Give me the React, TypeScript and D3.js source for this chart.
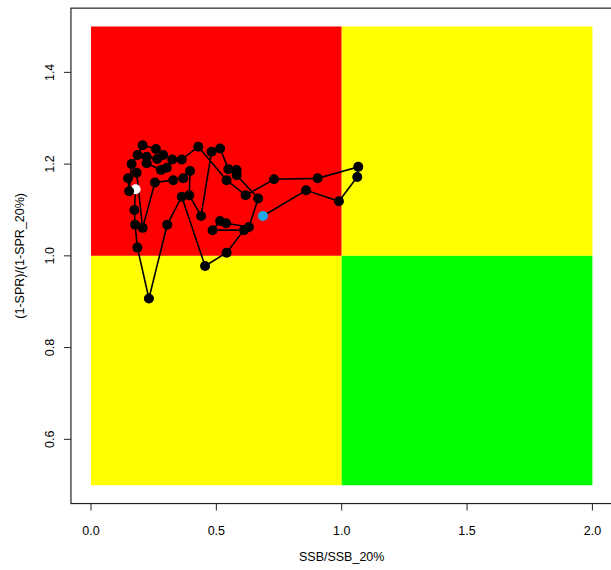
import React from "react";
import * as d3 from "d3";

// SSB/SSB_20% (x) and (1-SPR)/(1-SPR_20%) (y), in time order; first = white, last = blue
const ssbRatio = [
  0.178, 0.173, 0.176, 0.185, 0.231, 0.304, 0.362, 0.455, 0.541, 0.61,
  0.485, 0.515, 0.539, 0.63, 0.667, 0.581, 0.581, 0.548, 0.515, 0.481,
  0.439, 0.392, 0.395, 0.368, 0.328, 0.255, 0.206, 0.182, 0.148, 0.152,
  0.162, 0.186, 0.206, 0.259, 0.288, 0.264, 0.222, 0.222, 0.279, 0.302,
  0.324, 0.362, 0.428, 0.541, 0.617, 0.73, 0.904, 1.066, 1.062, 0.989,
  0.858, 0.686,
];
const sprRatio = [
  1.145, 1.1, 1.068, 1.018, 0.907, 1.068, 1.129, 0.978, 1.007, 1.056,
  1.056, 1.076, 1.071, 1.063, 1.125, 1.176, 1.187, 1.189, 1.234, 1.227,
  1.087, 1.132, 1.185, 1.169, 1.165, 1.16, 1.061, 1.181, 1.169, 1.141,
  1.2, 1.22, 1.241, 1.233, 1.22, 1.211, 1.216, 1.202, 1.187, 1.192,
  1.21, 1.21, 1.238, 1.165, 1.132, 1.167, 1.169, 1.194, 1.172, 1.119,
  1.143, 1.087,
];

const xTicks = [0, 0.5, 1, 1.5, 2];
const yTicks = [0.6, 0.8, 1.0, 1.2, 1.4];
const xLabel = "SSB/SSB_20%";
const yLabel = "(1-SPR)/(1-SPR_20%)";

const quadrants = [
  { x0: 0, x1: 1, y0: 1, y1: 1.5, color: "#FF0000" },
  { x0: 1, x1: 2, y0: 1, y1: 1.5, color: "#FFFF00" },
  { x0: 0, x1: 1, y0: 0.5, y1: 1, color: "#FFFF00" },
  { x0: 1, x1: 2, y0: 0.5, y1: 1, color: "#00FF00" },
];

export default function App() {
  const W = 611;
  const H = 570;
  const x = d3.scaleLinear().domain([0, 2]).range([91, 592.4]);
  const y = d3.scaleLinear().domain([0.5, 1.5]).range([485.2, 26.5]);
  const left = x(-0.08);
  const right = x(2.08);
  const top = y(1.54);
  const bottom = y(0.46);
  const pts = ssbRatio.map((v, i) => [v, sprRatio[i]] as [number, number]);
  const line = d3
    .line<[number, number]>()
    .x((d) => x(d[0]))
    .y((d) => y(d[1]));
  const font = "'Liberation Sans', Arial, sans-serif";
  const n = pts.length;
  return (
    <svg
      width={W}
      height={H}
      style={{ position: "absolute", left: 0, top: 0, background: "#fff" }}
      fontFamily={font}
    >
      {quadrants.map((q, i) => (
        <rect
          key={i}
          x={x(q.x0)}
          y={y(q.y1)}
          width={x(q.x1) - x(q.x0)}
          height={y(q.y0) - y(q.y1)}
          fill={q.color}
        />
      ))}
      <path d={line(pts) || ""} fill="none" stroke="#000" strokeWidth={1.6} />
      {pts.map((p, i) => (
        <circle
          key={i}
          cx={x(p[0])}
          cy={y(p[1])}
          r={5}
          fill={i === 0 ? "#FFFFFF" : i === n - 1 ? "#1EA7E4" : "#000"}
        />
      ))}
      <rect
        x={left}
        y={top}
        width={right - left}
        height={bottom - top}
        fill="none"
        stroke="#222"
        strokeWidth={1.2}
      />
      {xTicks.map((t) => (
        <g key={t}>
          <line x1={x(t)} x2={x(t)} y1={bottom} y2={bottom + 7} stroke="#222" />
          <text x={x(t)} y={535} textAnchor="middle" fontSize={12.5}>
            {t.toFixed(1)}
          </text>
        </g>
      ))}
      {yTicks.map((t) => (
        <g key={t}>
          <line x1={left - 7} x2={left} y1={y(t)} y2={y(t)} stroke="#222" />
          <text
            transform={`translate(54,${y(t)}) rotate(-90)`}
            textAnchor="middle"
            fontSize={12.5}
          >
            {t.toFixed(1)}
          </text>
        </g>
      ))}
      <text x={x(1)} y={561} textAnchor="middle" fontSize={12.5}>
        {xLabel}
      </text>
      <text
        transform={`translate(24,${y(1)}) rotate(-90)`}
        textAnchor="middle"
        fontSize={12.5}
      >
        {yLabel}
      </text>
    </svg>
  );
}
